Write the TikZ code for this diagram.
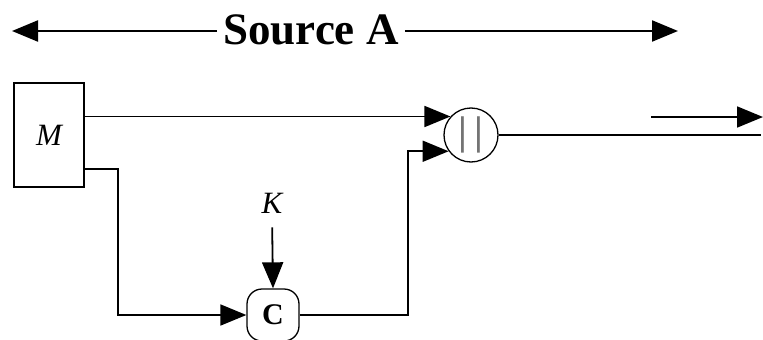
\documentclass[tikz,border=0pt]{standalone}
\usepackage{fontspec}
\setmainfont{Liberation Serif}
\usetikzlibrary{arrows.meta,positioning}

\begin{document}
\begin{tikzpicture}[x=1pt, y=-1pt,
  blk/.style={draw, line width=1.8pt, minimum width=70pt, minimum height=104pt,
    inner sep=0pt, font=\fontsize{31}{33}\selectfont\itshape},
  op/.style={draw, line width=1.3pt, circle, minimum size=54pt, inner sep=0pt,
    font=\fontsize{40}{42}\selectfont\bfseries},
  cbox/.style={draw, line width=1.3pt, rounded corners=15pt, minimum size=52pt,
    inner sep=0pt, font=\fontsize{30}{32}\selectfont\bfseries},
  lbl/.style={font=\fontsize{31}{33}\selectfont\itshape, inner sep=2pt},
  e/.style={-{Triangle[length=26pt,width=21pt]}, line width=1.8pt},
  ln/.style={line width=1.8pt}
]
  \useasboundingbox (0,0) rectangle (763,340);
  % top span
  \node[font=\fontsize{45}{48}\selectfont\bfseries, inner sep=6pt] (src) at (311,30) {Source A};
  \coordinate (srcL) at (12,31);
  \coordinate (srcR) at (678,31);
  \draw[e, line width=2.2pt] (src.west |- srcL) -- (srcL);
  \draw[e, line width=2.2pt] (src.east |- srcR) -- (srcR);
  % blocks
  \node[blk] (M) at (49,135) {M};
  \node[op] (cat) at (471,135) {\textcolor{black!55}{|\hspace{7pt}|}};
  \node[cbox] (C) at (273,315) {C};
  \node[lbl] (K) at (272,203) {K};
  \coordinate (outA) at (651,117);
  \coordinate (outB) at (763,117);
  % connectors
  \draw[e] (cat.138 -| M.east) -- (cat.138);
  \draw[e] ([yshift=-34pt]M.east) -- ++(33,0) |- (C.west);
  \draw[e, shorten <=12pt] (K.south) -- (C.north);
  \draw[e] (C.east) -| ([xshift=-41pt]cat.216) -- (cat.216);
  \draw[ln] (cat.east) -- ++(262,0);
  \draw[e] (outA) -- (outB);
\end{tikzpicture}
\end{document}
